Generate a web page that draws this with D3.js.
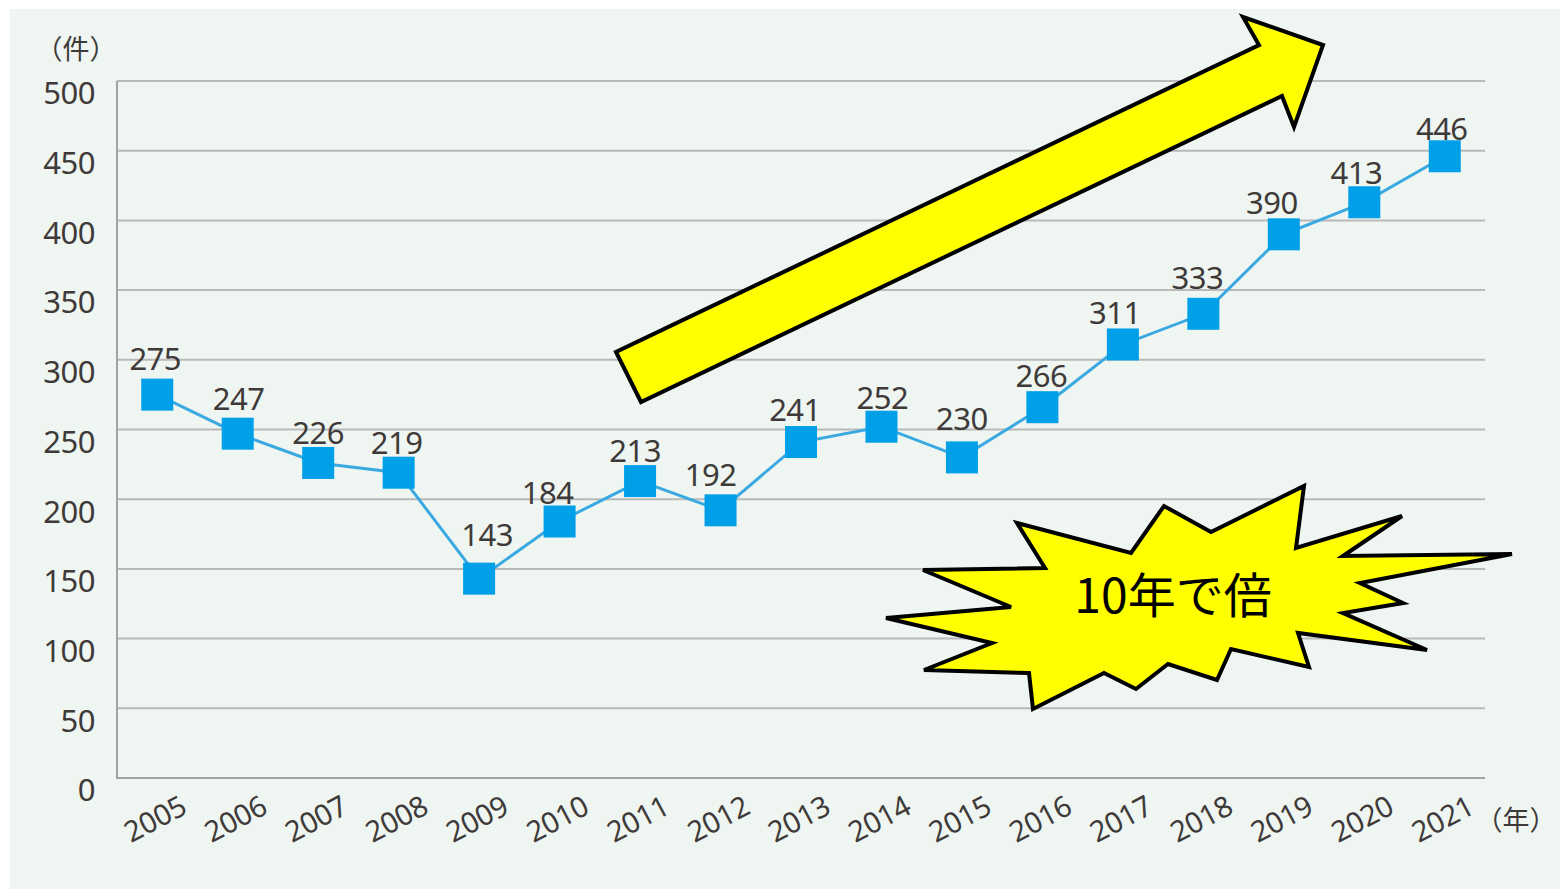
<!DOCTYPE html>
<html lang="ja">
<head>
  <meta charset="UTF-8" />
  <title>件数の推移</title>
  <style>
    body { margin: 0; background: #fff; }
    svg text { font-family: 'Noto Sans', 'Noto Sans CJK JP', sans-serif; fill: #3e3a39; }
    .grid line { stroke: #b9b9b9; stroke-width: 2px; }
    .axis { stroke: #a3a3a3; stroke-width: 2px; fill: none; }
  </style>
</head>
<body>
  <svg id="chart" width="1560" height="889"></svg>

  <script src="https://d3js.org/d3.v7.min.js"></script>
  <script>
    // data
    const years = ["2005", "2006", "2007", "2008", "2009", "2010", "2011", "2012", "2013",
                   "2014", "2015", "2016", "2017", "2018", "2019", "2020", "2021"];
    const counts = [275, 247, 226, 219, 143, 184, 213, 192, 241, 252, 230, 266, 311, 333, 390, 413, 446];
    const yTicks = [0, 50, 100, 150, 200, 250, 300, 350, 400, 450, 500];

    // hand-placed value label nudges (px, label centre relative to marker)
    const labelDx = [-2, 1, 0, -2, 8, -12, -5, -10, -6, 1, 0, -1, -8, -6, -12, -8, -3];
    const labelDy = [33, 32, 27, 27, 41, 26, 27, 33, 29, 26, 36, 29, 29, 33, 29, 27, 25];

    // annotation shapes (pixel space)
    const arrowPts = [[641, 402], [616, 352], [1259, 45], [1243, 17], [1323, 45], [1294, 127], [1282, 96]];
    const burstPts = [[1017, 523], [1131, 553], [1164, 506], [1211, 532], [1304, 486], [1296, 548],
                      [1402, 516], [1343, 556], [1512, 554], [1360, 583], [1403, 603], [1343, 613],
                      [1427, 650], [1298, 633], [1309, 667], [1231, 649], [1217, 680], [1168, 664],
                      [1136, 689], [1104, 673], [1033, 709], [1029, 673], [924, 670], [992, 643],
                      [886, 618], [1011, 607], [923, 570], [1045, 568]];

    const svg = d3.select("#chart");
    const plotL = 117, plotR = 1485, plotT = 81, plotB = 778;

    svg.append("rect").attr("x", 10).attr("y", 9).attr("width", 1550).attr("height", 880)
      .attr("fill", "#eff5f1");

    const x = d3.scaleBand().domain(years).range([plotL, plotR]);
    const y = d3.scaleLinear().domain([0, 500]).range([plotB, plotT]);
    const cx = d => x(d) + x.bandwidth() / 2;

    // gridlines
    svg.append("g").attr("class", "grid")
      .selectAll("line").data(yTicks.filter(t => t > 0)).join("line")
      .attr("x1", plotL).attr("x2", plotR)
      .attr("y1", d => y(d)).attr("y2", d => y(d));

    // axis lines
    svg.append("path").attr("class", "axis")
      .attr("d", `M${plotL},${y(500)}V${y(0)}H${plotR}`);

    // y tick labels
    svg.append("g").selectAll("text").data(yTicks).join("text")
      .attr("x", 95).attr("y", d => y(d) + 15)
      .attr("text-anchor", "end").attr("dominant-baseline", "middle")
      .attr("font-size", 31).attr("letter-spacing", -0.5)
      .text(d => d);

    svg.append("text").attr("x", 76).attr("y", 52)
      .attr("text-anchor", "middle").attr("dominant-baseline", "middle")
      .attr("font-size", 27).text("（件）");

    // x tick labels
    svg.append("g").selectAll("text").data(years).join("text")
      .attr("transform", d => `translate(${cx(d) - 1},${821}) rotate(-28)`)
      .attr("text-anchor", "middle").attr("dominant-baseline", "middle")
      .attr("font-size", 29).attr("letter-spacing", -0.3)
      .text(d => d);

    svg.append("text").attr("x", 1516).attr("y", 823)
      .attr("text-anchor", "middle").attr("dominant-baseline", "middle")
      .attr("font-size", 27).text("（年）");

    // line
    const line = d3.line().x((d, i) => cx(years[i])).y(d => y(d));
    svg.append("path").datum(counts)
      .attr("fill", "none").attr("stroke", "#3aa9e2").attr("stroke-width", 3)
      .attr("d", line);

    // markers
    const ms = 32;
    svg.append("g").selectAll("rect").data(counts).join("rect")
      .attr("x", (d, i) => cx(years[i]) - ms / 2)
      .attr("y", d => y(d) - ms / 2)
      .attr("width", ms).attr("height", ms)
      .attr("fill", "#00a0e9");

    // value labels
    svg.append("g").selectAll("text").data(counts).join("text")
      .attr("x", (d, i) => cx(years[i]) + labelDx[i])
      .attr("y", (d, i) => y(d) - labelDy[i])
      .attr("text-anchor", "middle").attr("dominant-baseline", "middle")
      .attr("font-size", 31).attr("letter-spacing", -0.5)
      .text(d => d);

    // arrow
    svg.append("polygon")
      .attr("points", arrowPts.map(p => p.join(",")).join(" "))
      .attr("fill", "#ffff00").attr("stroke", "#000").attr("stroke-width", 4)
      .attr("stroke-linejoin", "miter");

    // starburst
    svg.append("polygon")
      .attr("points", burstPts.map(p => p.join(",")).join(" "))
      .attr("fill", "#ffff00").attr("stroke", "#000").attr("stroke-width", 4)
      .attr("stroke-linejoin", "miter");

    svg.append("text").attr("x", 1173).attr("y", 600)
      .attr("text-anchor", "middle").attr("dominant-baseline", "middle")
      .style("font-family", "'Noto Sans CJK JP', sans-serif").style("fill", "#000")
      .attr("font-size", 48).text("10年で倍");
  </script>
</body>
</html>
